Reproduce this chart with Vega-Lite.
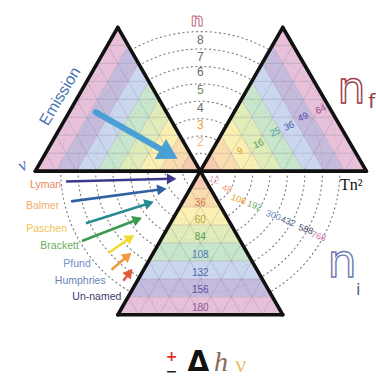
{
"$schema":"https://vega.github.io/schema/vega-lite/v6.json",
"width":376,"height":379,
"autosize":{"type":"fit","contains":"padding"},
"padding":0,
"background":"white",
"config":{"view":{"stroke":null}},
"encoding":{
 "x":{"field":"x","type":"quantitative","scale":{"domain":[-11.215,9.558],"nice":false,"zero":false},"axis":null},
 "y":{"field":"y","type":"quantitative","scale":{"domain":[-11.409,9.53],"nice":false,"zero":false},"axis":null}
},
"resolve":{"scale":{"color":"independent"}},
"layer":[
 {"data":{"values":[{"x":0,"y":0,"r":0.98},{"x":0,"y":0,"r":1.94},{"x":0,"y":0,"r":2.9},{"x":0,"y":0,"r":3.86},{"x":0,"y":0,"r":4.82},{"x":0,"y":0,"r":5.78},{"x":0,"y":0,"r":6.75},{"x":0,"y":0,"r":7.71}]},
  "mark":{"type":"point","shape":"circle","filled":false,"stroke":"#7a7a7a","strokeWidth":1.1,"strokeDash":[2,2.6],"opacity":1},
  "encoding":{"size":{"field":"r","type":"quantitative","scale":{"type":"pow","exponent":2,"domain":[0,10],"range":[0,131044]},"legend":null}}},
 {"data":{"values":[
  {"p":"R0","o":0,"k":0,"x":0,"y":0},{"p":"R0","o":1,"k":0,"x":0.577,"y":1},{"p":"R0","o":2,"k":0,"x":1.155,"y":0},
  {"p":"R1","o":0,"k":1,"x":1.155,"y":0},{"p":"R1","o":1,"k":1,"x":0.577,"y":1},{"p":"R1","o":2,"k":1,"x":1.155,"y":2},{"p":"R1","o":3,"k":1,"x":2.309,"y":0},
  {"p":"R2","o":0,"k":2,"x":2.309,"y":0},{"p":"R2","o":1,"k":2,"x":1.155,"y":2},{"p":"R2","o":2,"k":2,"x":1.732,"y":3},{"p":"R2","o":3,"k":2,"x":3.464,"y":0},
  {"p":"R3","o":0,"k":3,"x":3.464,"y":0},{"p":"R3","o":1,"k":3,"x":1.732,"y":3},{"p":"R3","o":2,"k":3,"x":2.309,"y":4},{"p":"R3","o":3,"k":3,"x":4.619,"y":0},
  {"p":"R4","o":0,"k":4,"x":4.619,"y":0},{"p":"R4","o":1,"k":4,"x":2.309,"y":4},{"p":"R4","o":2,"k":4,"x":2.887,"y":5},{"p":"R4","o":3,"k":4,"x":5.774,"y":0},
  {"p":"R5","o":0,"k":5,"x":5.774,"y":0},{"p":"R5","o":1,"k":5,"x":2.887,"y":5},{"p":"R5","o":2,"k":5,"x":3.464,"y":6},{"p":"R5","o":3,"k":5,"x":6.928,"y":0},
  {"p":"R6","o":0,"k":6,"x":6.928,"y":0},{"p":"R6","o":1,"k":6,"x":3.464,"y":6},{"p":"R6","o":2,"k":6,"x":4.041,"y":7},{"p":"R6","o":3,"k":6,"x":8.083,"y":0},
  {"p":"R7","o":0,"k":7,"x":8.083,"y":0},{"p":"R7","o":1,"k":7,"x":4.041,"y":7},{"p":"R7","o":2,"k":7,"x":4.619,"y":8},{"p":"R7","o":3,"k":7,"x":9.238,"y":0},
  {"p":"L0","o":0,"k":0,"x":0,"y":0},{"p":"L0","o":1,"k":0,"x":-0.577,"y":1},{"p":"L0","o":2,"k":0,"x":-1.155,"y":0},
  {"p":"L1","o":0,"k":1,"x":-1.155,"y":0},{"p":"L1","o":1,"k":1,"x":-0.577,"y":1},{"p":"L1","o":2,"k":1,"x":-1.155,"y":2},{"p":"L1","o":3,"k":1,"x":-2.309,"y":0},
  {"p":"L2","o":0,"k":2,"x":-2.309,"y":0},{"p":"L2","o":1,"k":2,"x":-1.155,"y":2},{"p":"L2","o":2,"k":2,"x":-1.732,"y":3},{"p":"L2","o":3,"k":2,"x":-3.464,"y":0},
  {"p":"L3","o":0,"k":3,"x":-3.464,"y":0},{"p":"L3","o":1,"k":3,"x":-1.732,"y":3},{"p":"L3","o":2,"k":3,"x":-2.309,"y":4},{"p":"L3","o":3,"k":3,"x":-4.619,"y":0},
  {"p":"L4","o":0,"k":4,"x":-4.619,"y":0},{"p":"L4","o":1,"k":4,"x":-2.309,"y":4},{"p":"L4","o":2,"k":4,"x":-2.887,"y":5},{"p":"L4","o":3,"k":4,"x":-5.774,"y":0},
  {"p":"L5","o":0,"k":5,"x":-5.774,"y":0},{"p":"L5","o":1,"k":5,"x":-2.887,"y":5},{"p":"L5","o":2,"k":5,"x":-3.464,"y":6},{"p":"L5","o":3,"k":5,"x":-6.928,"y":0},
  {"p":"L6","o":0,"k":6,"x":-6.928,"y":0},{"p":"L6","o":1,"k":6,"x":-3.464,"y":6},{"p":"L6","o":2,"k":6,"x":-4.041,"y":7},{"p":"L6","o":3,"k":6,"x":-8.083,"y":0},
  {"p":"L7","o":0,"k":7,"x":-8.083,"y":0},{"p":"L7","o":1,"k":7,"x":-4.041,"y":7},{"p":"L7","o":2,"k":7,"x":-4.619,"y":8},{"p":"L7","o":3,"k":7,"x":-9.238,"y":0},
  {"p":"B0","o":0,"k":0,"x":0,"y":0},{"p":"B0","o":1,"k":0,"x":0.577,"y":-1},{"p":"B0","o":2,"k":0,"x":-0.577,"y":-1},
  {"p":"B1","o":0,"k":1,"x":-0.577,"y":-1},{"p":"B1","o":1,"k":1,"x":0.577,"y":-1},{"p":"B1","o":2,"k":1,"x":1.155,"y":-2},{"p":"B1","o":3,"k":1,"x":-1.155,"y":-2},
  {"p":"B2","o":0,"k":2,"x":-1.155,"y":-2},{"p":"B2","o":1,"k":2,"x":1.155,"y":-2},{"p":"B2","o":2,"k":2,"x":1.732,"y":-3},{"p":"B2","o":3,"k":2,"x":-1.732,"y":-3},
  {"p":"B3","o":0,"k":3,"x":-1.732,"y":-3},{"p":"B3","o":1,"k":3,"x":1.732,"y":-3},{"p":"B3","o":2,"k":3,"x":2.309,"y":-4},{"p":"B3","o":3,"k":3,"x":-2.309,"y":-4},
  {"p":"B4","o":0,"k":4,"x":-2.309,"y":-4},{"p":"B4","o":1,"k":4,"x":2.309,"y":-4},{"p":"B4","o":2,"k":4,"x":2.887,"y":-5},{"p":"B4","o":3,"k":4,"x":-2.887,"y":-5},
  {"p":"B5","o":0,"k":5,"x":-2.887,"y":-5},{"p":"B5","o":1,"k":5,"x":2.887,"y":-5},{"p":"B5","o":2,"k":5,"x":3.464,"y":-6},{"p":"B5","o":3,"k":5,"x":-3.464,"y":-6},
  {"p":"B6","o":0,"k":6,"x":-3.464,"y":-6},{"p":"B6","o":1,"k":6,"x":3.464,"y":-6},{"p":"B6","o":2,"k":6,"x":4.041,"y":-7},{"p":"B6","o":3,"k":6,"x":-4.041,"y":-7},
  {"p":"B7","o":0,"k":7,"x":-4.041,"y":-7},{"p":"B7","o":1,"k":7,"x":4.041,"y":-7},{"p":"B7","o":2,"k":7,"x":4.619,"y":-8},{"p":"B7","o":3,"k":7,"x":-4.619,"y":-8}
 ]},
  "mark":{"type":"line","filled":true,"interpolate":"linear-closed","strokeWidth":0,"opacity":0.88},
  "encoding":{
   "detail":{"field":"p","type":"nominal"},
   "order":{"field":"o","type":"quantitative"},
   "color":{"field":"k","type":"ordinal","scale":{"domain":[0,1,2,3,4,5,6,7],"range":["#f5c2a6","#f9d8a4","#f8eea6","#dcebb0","#bfe2c4","#c3d1ec","#bdb2d8","#e3b8d4"]},"legend":null}}},
 {"data":{"values":[
  {"x":-0.577,"y":-1,"x2":0.577,"y2":-1},{"x":-1.155,"y":-2,"x2":1.155,"y2":-2},{"x":-1.732,"y":-3,"x2":1.732,"y2":-3},{"x":-2.309,"y":-4,"x2":2.309,"y2":-4},{"x":-2.887,"y":-5,"x2":2.887,"y2":-5},{"x":-3.464,"y":-6,"x2":3.464,"y2":-6},{"x":-4.041,"y":-7,"x2":4.041,"y2":-7},
  {"x":0.577,"y":-1,"x2":-3.464,"y2":-8},{"x":1.155,"y":-2,"x2":-2.309,"y2":-8},{"x":1.732,"y":-3,"x2":-1.155,"y2":-8},{"x":2.309,"y":-4,"x2":0,"y2":-8},{"x":2.887,"y":-5,"x2":1.155,"y2":-8},{"x":3.464,"y":-6,"x2":2.309,"y2":-8},{"x":4.041,"y":-7,"x2":3.464,"y2":-8},
  {"x":-0.577,"y":-1,"x2":3.464,"y2":-8},{"x":-1.155,"y":-2,"x2":2.309,"y2":-8},{"x":-1.732,"y":-3,"x2":1.155,"y2":-8},{"x":-2.309,"y":-4,"x2":0,"y2":-8},{"x":-2.887,"y":-5,"x2":-1.155,"y2":-8},{"x":-3.464,"y":-6,"x2":-2.309,"y2":-8},{"x":-4.041,"y":-7,"x2":-3.464,"y2":-8},
  {"x":1.155,"y":0,"x2":0.577,"y2":1},{"x":2.309,"y":0,"x2":1.155,"y2":2},{"x":3.464,"y":0,"x2":1.732,"y2":3},{"x":4.619,"y":0,"x2":2.309,"y2":4},{"x":5.774,"y":0,"x2":2.887,"y2":5},{"x":6.928,"y":0,"x2":3.464,"y2":6},{"x":8.083,"y":0,"x2":4.041,"y2":7},
  {"x":0.577,"y":1,"x2":8.66,"y2":1},{"x":1.155,"y":2,"x2":8.083,"y2":2},{"x":1.732,"y":3,"x2":7.506,"y2":3},{"x":2.309,"y":4,"x2":6.928,"y2":4},{"x":2.887,"y":5,"x2":6.351,"y2":5},{"x":3.464,"y":6,"x2":5.774,"y2":6},{"x":4.041,"y":7,"x2":5.196,"y2":7},
  {"x":1.155,"y":0,"x2":5.196,"y2":7},{"x":2.309,"y":0,"x2":5.774,"y2":6},{"x":3.464,"y":0,"x2":6.351,"y2":5},{"x":4.619,"y":0,"x2":6.928,"y2":4},{"x":5.774,"y":0,"x2":7.506,"y2":3},{"x":6.928,"y":0,"x2":8.083,"y2":2},{"x":8.083,"y":0,"x2":8.66,"y2":1},
  {"x":-1.155,"y":0,"x2":-0.577,"y2":1},{"x":-2.309,"y":0,"x2":-1.155,"y2":2},{"x":-3.464,"y":0,"x2":-1.732,"y2":3},{"x":-4.619,"y":0,"x2":-2.309,"y2":4},{"x":-5.774,"y":0,"x2":-2.887,"y2":5},{"x":-6.928,"y":0,"x2":-3.464,"y2":6},{"x":-8.083,"y":0,"x2":-4.041,"y2":7},
  {"x":-0.577,"y":1,"x2":-8.66,"y2":1},{"x":-1.155,"y":2,"x2":-8.083,"y2":2},{"x":-1.732,"y":3,"x2":-7.506,"y2":3},{"x":-2.309,"y":4,"x2":-6.928,"y2":4},{"x":-2.887,"y":5,"x2":-6.351,"y2":5},{"x":-3.464,"y":6,"x2":-5.774,"y2":6},{"x":-4.041,"y":7,"x2":-5.196,"y2":7},
  {"x":-1.155,"y":0,"x2":-5.196,"y2":7},{"x":-2.309,"y":0,"x2":-5.774,"y2":6},{"x":-3.464,"y":0,"x2":-6.351,"y2":5},{"x":-4.619,"y":0,"x2":-6.928,"y2":4},{"x":-5.774,"y":0,"x2":-7.506,"y2":3},{"x":-6.928,"y":0,"x2":-8.083,"y2":2},{"x":-8.083,"y":0,"x2":-8.66,"y2":1}
 ]},
  "mark":{"type":"rule","stroke":"#8a7a90","strokeWidth":0.8,"opacity":0.35},
  "encoding":{"x2":{"field":"x2"},"y2":{"field":"y2"}}},
 {"data":{"values":[
  {"x":-9.238,"y":0,"x2":9.3,"y2":0},{"x":-9.238,"y":0,"x2":-4.619,"y2":8},{"x":-4.619,"y":8,"x2":4.619,"y2":-8},{"x":4.619,"y":8,"x2":-4.619,"y2":-8},{"x":4.619,"y":8,"x2":9.3,"y2":0},{"x":-4.619,"y":-8,"x2":4.619,"y2":-8}
 ]},
  "mark":{"type":"rule","stroke":"#111111","strokeWidth":3.6,"strokeCap":"round"},
  "encoding":{"x2":{"field":"x2"},"y2":{"field":"y2"}}},
 {"data":{"values":[{"x":-5.856,"y":3.287,"x2":-1.9,"y2":1.05}]},
  "mark":{"type":"rule","stroke":"#4a9fd6","strokeWidth":6,"strokeCap":"round"},
  "encoding":{"x2":{"field":"x2"},"y2":{"field":"y2"}}},
 {"data":{"values":[{"x":-1.751,"y":0.961,"a":29.5}]},
  "mark":{"type":"point","shape":"triangle-right","filled":true,"color":"#4a9fd6","size":520,"opacity":1},
  "encoding":{"angle":{"field":"a","type":"quantitative","scale":null}}},
 {"data":{"values":[
  {"s":"Lyman","x":-7.514,"y":-0.58,"x2":-1.602,"y2":-0.425},
  {"s":"Balmer","x":-7.238,"y":-1.685,"x2":-2.149,"y2":-1.011},
  {"s":"Paschen","x":-6.409,"y":-2.901,"x2":-2.856,"y2":-1.785},
  {"s":"Brackett","x":-6.63,"y":-3.895,"x2":-3.514,"y2":-2.691},
  {"s":"Pfund","x":-5.138,"y":-4.558,"x2":-3.917,"y2":-3.702},
  {"s":"Humphries","x":-4.972,"y":-5.497,"x2":-4.061,"y2":-4.718},
  {"s":"Un-named","x":-4.309,"y":-6.105,"x2":-3.961,"y2":-5.646}
 ]},
  "mark":{"type":"rule","strokeWidth":2.6},
  "encoding":{"x2":{"field":"x2"},"y2":{"field":"y2"},
   "color":{"field":"s","type":"nominal","scale":{"domain":["Lyman","Balmer","Paschen","Brackett","Pfund","Humphries","Un-named"],"range":["#3b3a8c","#2f62a4","#2a8a92","#3c9a50","#f0dc30","#f29a3c","#e05a3c"]},"legend":null}}},
 {"data":{"values":[
  {"s":"Lyman","x":-1.602,"y":-0.425,"a":-1.5},
  {"s":"Balmer","x":-2.149,"y":-1.011,"a":-7.6},
  {"s":"Paschen","x":-2.856,"y":-1.785,"a":-17.4},
  {"s":"Brackett","x":-3.514,"y":-2.691,"a":-21},
  {"s":"Pfund","x":-3.917,"y":-3.702,"a":-35},
  {"s":"Humphries","x":-4.061,"y":-4.718,"a":-40.6},
  {"s":"Un-named","x":-3.961,"y":-5.646,"a":-52}
 ]},
  "mark":{"type":"point","shape":"triangle-right","filled":true,"size":120,"opacity":1},
  "encoding":{"angle":{"field":"a","type":"quantitative","scale":null},
   "color":{"field":"s","type":"nominal","scale":{"domain":["Lyman","Balmer","Paschen","Brackett","Pfund","Humphries","Un-named"],"range":["#3b3a8c","#2f62a4","#2a8a92","#3c9a50","#f0dc30","#f29a3c","#e05a3c"]},"legend":null}}},
 {"data":{"values":[
  {"s":"Lyman","x":-7.79,"y":-0.8},
  {"s":"Balmer","x":-7.9,"y":-1.96},
  {"s":"Paschen","x":-7.46,"y":-3.23},
  {"s":"Brackett","x":-6.8,"y":-4.17},
  {"s":"Pfund","x":-6.13,"y":-5.17},
  {"s":"Humphries","x":-5.3,"y":-6.11},
  {"s":"Un-named","x":-4.42,"y":-6.99}
 ]},
  "mark":{"type":"text","align":"right","baseline":"middle","font":"Liberation Sans","fontSize":10.5},
  "encoding":{"text":{"field":"s"},
   "color":{"field":"s","type":"nominal","scale":{"domain":["Lyman","Balmer","Paschen","Brackett","Pfund","Humphries","Un-named"],"range":["#e8885e","#f0ae6e","#f2c25a","#6aae5a","#6f92c8","#6a84b4","#3a3a6a"]},"legend":null}}},
 {"data":{"values":[
  {"t":"8","x":0,"y":7.28},{"t":"7","x":0,"y":6.38},{"t":"6","x":0,"y":5.5},{"t":"5","x":0,"y":4.5},{"t":"4","x":0,"y":3.51},{"t":"3","x":0,"y":2.57},{"t":"2","x":0,"y":1.63}
 ]},
  "mark":{"type":"text","align":"center","baseline":"middle","font":"Liberation Sans","fontSize":12},
  "encoding":{"text":{"field":"t"},
   "color":{"field":"t","type":"nominal","scale":{"domain":["8","7","6","5","4","3","2"],"range":["#6a6a6a","#6a6a6a","#6a6a6a","#6a8a6a","#6a6a6a","#e8a040","#f0b890"]},"legend":null}}},
 {"data":{"values":[
  {"t":"9","x":2.21,"y":1.13},{"t":"16","x":3.26,"y":1.52},{"t":"25","x":4.2,"y":2.18},{"t":"36","x":4.97,"y":2.51},{"t":"49","x":5.75,"y":3.01},{"t":"64","x":6.74,"y":3.45}
 ]},
  "mark":{"type":"text","align":"center","baseline":"middle","font":"Liberation Sans","fontSize":9.5,"angle":-25},
  "encoding":{"text":{"field":"t"},
   "color":{"field":"t","type":"nominal","scale":{"domain":["9","16","25","36","49","64"],"range":["#d8a030","#58a058","#50a0a0","#4a62b0","#5a4ea8","#a04a90"]},"legend":null}}},
 {"data":{"values":[
  {"t":"36","x":0,"y":-1.8},{"t":"60","x":0,"y":-2.73},{"t":"84","x":0,"y":-3.67},{"t":"108","x":0,"y":-4.67},{"t":"132","x":0,"y":-5.66},{"t":"156","x":0,"y":-6.6},{"t":"180","x":0,"y":-7.6}
 ]},
  "mark":{"type":"text","align":"center","baseline":"middle","font":"Liberation Sans","fontSize":10},
  "encoding":{"text":{"field":"t"},
   "color":{"field":"t","type":"nominal","scale":{"domain":["36","60","84","108","132","156","180"],"range":["#d07840","#b8a040","#58a058","#4a7ab8","#4a60a8","#5a50a0","#8a5a98"]},"legend":null}}},
 {"data":{"values":[
  {"t":"12","x":0.77,"y":-0.47},{"t":"48","x":1.49,"y":-0.97},{"t":"108","x":2.15,"y":-1.57},{"t":"192","x":3.04,"y":-1.91},{"t":"300","x":4.09,"y":-2.46},{"t":"432","x":4.92,"y":-2.79},{"t":"588","x":5.91,"y":-3.23},{"t":"768","x":6.63,"y":-3.62}
 ]},
  "mark":{"type":"text","align":"center","baseline":"middle","font":"Liberation Sans","fontSize":9,"angle":20},
  "encoding":{"text":{"field":"t"},
   "color":{"field":"t","type":"nominal","scale":{"domain":["12","48","108","192","300","432","588","768"],"range":["#e0a0b0","#f0a070","#f09a20","#70a860","#6a8ac0","#4a5a80","#3a3a60","#d070a8"]},"legend":null}}},
 {"data":{"values":[{"t":"Emission","x":-7.85,"y":4.17}]},
  "mark":{"type":"text","align":"center","baseline":"middle","font":"Liberation Sans","fontSize":16,"angle":-59,"color":"#4a74b4"},
  "encoding":{"text":{"field":"t"}}},
 {"data":{"values":[{"t":"ν","x":-9.94,"y":0.3}]},
  "mark":{"type":"text","align":"center","baseline":"middle","font":"Liberation Serif","fontStyle":"italic","fontSize":18,"angle":-30,"color":"#4a74c0"},
  "encoding":{"text":{"field":"t"}}},
 {"data":{"values":[{"t":"n","x":-0.17,"y":8.37}]},
  "mark":{"type":"text","align":"center","baseline":"middle","font":"DejaVu Sans","fontWeight":"bold","fontSize":18,"fill":"#ffffff","stroke":"#c07088","strokeWidth":1},
  "encoding":{"text":{"field":"t"}}},
 {"data":{"values":[{"t":"n","x":7.68,"y":3.785}]},
  "mark":{"type":"text","align":"left","baseline":"alphabetic","font":"DejaVu Sans","fontSize":44,"fill":"#ffffff","stroke":"#9a3a4a","strokeWidth":1.4},
  "encoding":{"text":{"field":"t"}}},
 {"data":{"values":[{"t":"f","x":9.4,"y":3.5}]},
  "mark":{"type":"text","align":"left","baseline":"alphabetic","font":"DejaVu Sans","fontSize":20,"color":"#9a3a4a"},
  "encoding":{"text":{"field":"t"}}},
 {"data":{"values":[{"t":"n","x":7.127,"y":-5.884}]},
  "mark":{"type":"text","align":"left","baseline":"alphabetic","font":"DejaVu Sans","fontSize":46,"fill":"#ffffff","stroke":"#6a7ab0","strokeWidth":1.4},
  "encoding":{"text":{"field":"t"}}},
 {"data":{"values":[{"t":"i","x":8.84,"y":-6.6}]},
  "mark":{"type":"text","align":"center","baseline":"middle","font":"DejaVu Sans","fontSize":16,"color":"#4a5a80"},
  "encoding":{"text":{"field":"t"}}},
 {"data":{"values":[{"t":"Tn²","x":8.45,"y":-0.8}]},
  "mark":{"type":"text","align":"center","baseline":"middle","font":"Liberation Serif","fontSize":16,"color":"#111111"},
  "encoding":{"text":{"field":"t"}}},
 {"data":{"values":[{"t":"+","x":-1.602,"y":-10.35}]},
  "mark":{"type":"text","align":"center","baseline":"middle","font":"DejaVu Sans","fontWeight":"bold","fontSize":14,"color":"#e03030"},
  "encoding":{"text":{"field":"t"}}},
 {"data":{"values":[{"t":"−","x":-1.602,"y":-11.17}]},
  "mark":{"type":"text","align":"center","baseline":"middle","font":"DejaVu Sans","fontWeight":"bold","fontSize":14,"color":"#222222"},
  "encoding":{"text":{"field":"t"}}},
 {"data":{"values":[{"t":"Δ","x":-0.11,"y":-10.69}]},
  "mark":{"type":"text","align":"center","baseline":"middle","font":"DejaVu Sans","fontWeight":"bold","fontSize":28,"color":"#111111"},
  "encoding":{"text":{"field":"t"}}},
 {"data":{"values":[{"t":"h","x":1.16,"y":-10.69}]},
  "mark":{"type":"text","align":"center","baseline":"middle","font":"Liberation Serif","fontStyle":"italic","fontSize":28,"color":"#8a6a58"},
  "encoding":{"text":{"field":"t"}}},
 {"data":{"values":[{"t":"ν","x":2.265,"y":-10.8}]},
  "mark":{"type":"text","align":"center","baseline":"middle","font":"Liberation Serif","fontSize":24,"color":"#ecbe6a"},
  "encoding":{"text":{"field":"t"}}}
]
}
